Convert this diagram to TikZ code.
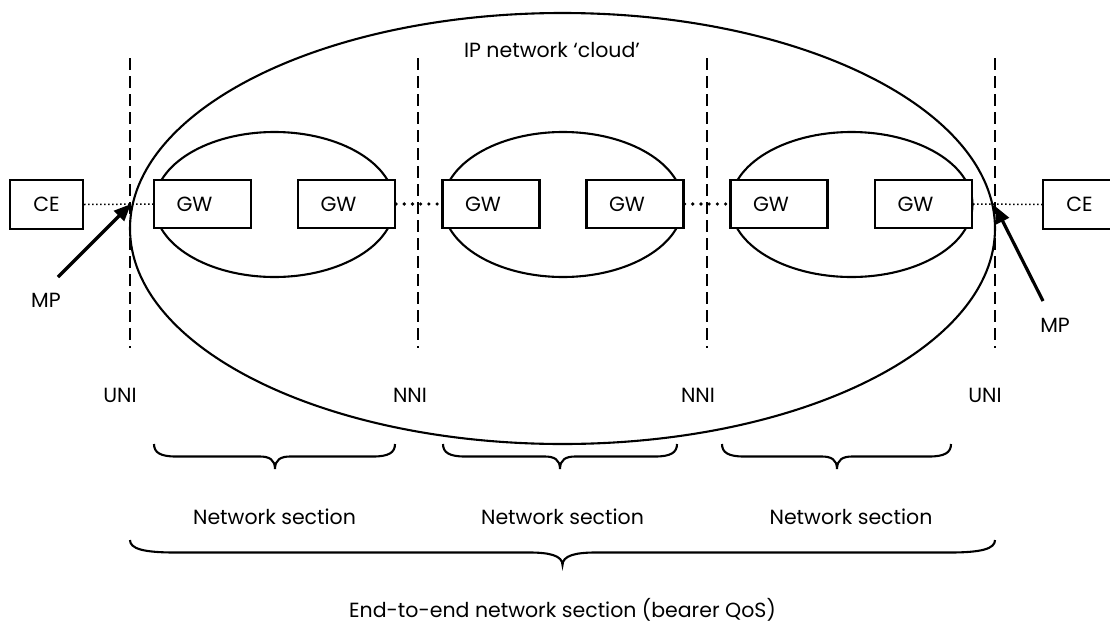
\documentclass[tikz,border=0pt]{standalone}
\usepackage{fontspec}
\setmainfont{Poppins}
\usetikzlibrary{arrows.meta}
\newcommand\secbrace[7]{% x1, xm, x2, ytop, depth, endlen, tiplen
  \draw[brc] (#1,#4) .. controls (#1,{#4+0.35*#5}) and ({#1+0.3*#6},{#4+0.5*#5}) .. ({#1+#6},{#4+0.5*#5})
    -- ({#2-#7},{#4+0.5*#5}) .. controls ({#2-0.4*#7},{#4+0.5*#5}) and (#2,{#4+0.62*#5}) .. (#2,{#4+#5})
    .. controls (#2,{#4+0.62*#5}) and ({#2+0.4*#7},{#4+0.5*#5}) .. ({#2+#7},{#4+0.5*#5})
    -- ({#3-#6},{#4+0.5*#5}) .. controls ({#3-0.3*#6},{#4+0.5*#5}) and (#3,{#4+0.35*#5}) .. (#3,#4);}
\begin{document}
\begin{tikzpicture}[x=1pt,y=-1pt,
  font=\fontsize{20.5}{23}\selectfont,
  outl/.style={draw=black,line width=2.1pt},
  box/.style={draw=black,line width=2.1pt,fill=white,minimum width=73pt,minimum height=49pt,inner sep=0pt},
  gwbox/.style={box,minimum width=97pt,minimum height=48pt},
  iface/.style={draw=black,line width=2pt,dash pattern=on 12pt off 6pt},
  thindot/.style={draw=black,line width=1.5pt,dash pattern=on 1.5pt off 2.5pt},
  thickdot/.style={draw=black,line width=3.6pt,line cap=round,dash pattern=on 0pt off 8.2pt},
  mparrow/.style={draw=black,line width=3.2pt,-{Triangle[length=17pt,width=14pt]}},
  brc/.style={draw=black,line width=2.1pt},
  lbl/.style={inner sep=0pt,anchor=center}]
\useasboundingbox (0,0) rectangle (1110,624);

% big cloud ellipse
\draw[outl] (562.5,228.5) ellipse [x radius=432.5, y radius=215.5];
% section ellipses
\draw[outl] (274.5,204.5) ellipse [x radius=120, y radius=72.5];
\draw[outl] (563,204.5) ellipse [x radius=120, y radius=72.5];
\draw[outl] (851.5,204.5) ellipse [x radius=121, y radius=72.5];

% interface lines
\draw[iface] (130,58) -- (130,348);
\draw[iface] (418,58) -- (418,348);
\draw[iface] (707,58) -- (707,348);
\draw[iface] (995,58) -- (995,348);

% boxes
\node[box] (ceL) at (46.5,204.5) {CE};
\node[box] (ceR) at (1079.5,204.5) {CE};
\node[gwbox] (g1) at (202.5,204) {GW\kern16pt};
\node[gwbox] (g2) at (346.5,204) {GW\kern16pt};
\node[gwbox] (g3) at (491,204) {GW\kern16pt};
\node[gwbox] (g4) at (635,204) {GW\kern16pt};
\node[gwbox] (g5) at (779,204) {GW\kern16pt};
\node[gwbox] (g6) at (923.5,204) {GW\kern16pt};

% links
\draw[thindot] (ceL.east) -- (g1.west);
\draw[thindot] (g6.east) -- (ceR.west);
\draw[thickdot] (g2.east) -- (g3.west);
\draw[thickdot] (g4.east) -- (g5.west);

% measurement points
\node[lbl] (mpLt) at (46,300) {MP};
\node[lbl] (mpRt) at (1055,325) {MP};
\coordinate (mpLtail) at (58,277);
\coordinate (mpLtip) at (131,204);
\coordinate (mpRtail) at (1043,301);
\coordinate (mpRtip) at (995,206);
\draw[mparrow] (mpLtail) -- (mpLtip);
\draw[mparrow] (mpRtail) -- (mpRtip);

% labels
\node[lbl] (cloud) at (552,50) {IP network ‘cloud’};
\node[lbl] (uni1) at (120,395) {UNI};
\node[lbl] (nni1) at (410,395) {NNI};
\node[lbl] (nni2) at (698,395) {NNI};
\node[lbl] (uni2) at (985,395) {UNI};

% braces
\secbrace{154}{275}{395}{444}{25}{22}{15}
\secbrace{443}{560}{677}{444}{25}{22}{15}
\secbrace{722}{837}{951}{444}{25}{22}{15}
\secbrace{130}{562.5}{995}{540}{25}{45}{33}

\node[lbl] (ns1) at (274.5,517) {Network section};
\node[lbl] (ns2) at (562.5,517) {Network section};
\node[lbl] (ns3) at (851,517) {Network section};
\node[lbl] (e2e) at (562.5,610) {End-to-end network section (bearer QoS)};
\end{tikzpicture}
\end{document}
